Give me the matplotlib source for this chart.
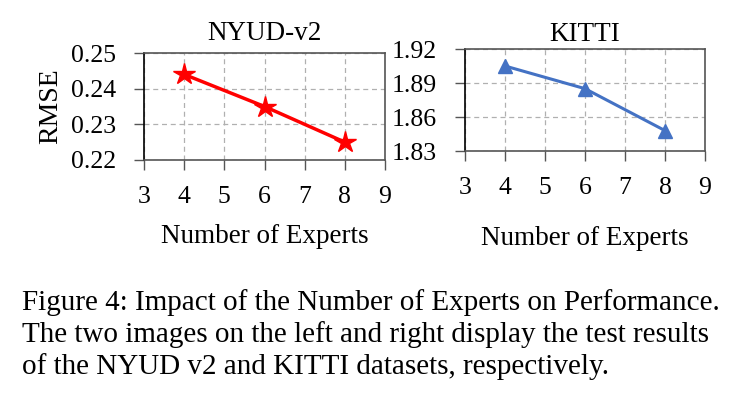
import matplotlib.pyplot as plt

plt.rcParams['font.family'] = ['Liberation Serif', 'DejaVu Serif']

experts = [4, 6, 8]
nyud_rmse = [0.244, 0.235, 0.225]
kitti_rmse = [1.905, 1.885, 1.848]

nyud_yticks = [0.22, 0.23, 0.24, 0.25]
kitti_yticks = [1.83, 1.86, 1.89, 1.92]
xticks = [3, 4, 5, 6, 7, 8, 9]

caption = ("Figure 4: Impact of the Number of Experts on Performance.\n"
           "The two images on the left and right display the test results\n"
           "of the NYUD v2 and KITTI datasets, respectively.")

fig = plt.figure(figsize=(7.44, 3.94), dpi=100)
W, H = 744, 394


def style(ax, yticks, fmt):
    ax.set_xlim(3, 9)
    ax.set_ylim(yticks[0], yticks[-1])
    ax.set_xticks(xticks)
    ax.set_yticks(yticks)
    ax.set_yticklabels([fmt % v for v in yticks])
    ax.grid(True, color='#b0b0b0', linestyle=(0, (4, 3)), linewidth=0.9)
    ax.set_axisbelow(True)
    for s in ax.spines.values():
        s.set_color('#555555')
        s.set_linewidth(1.2)
    ax.spines['left'].set_color('black')
    ax.tick_params(axis='both', labelsize=18.5, direction='out', length=7,
                   width=1.0, color='#555555')
    ax.tick_params(axis='x', pad=12)
    ax.tick_params(axis='y', pad=13)


# left panel
ax1 = fig.add_axes([144 / W, 1 - 160 / H, (385 - 144) / W, (160 - 53) / H])
ax1.plot(experts, nyud_rmse, color='#ff0000', linewidth=2.5, marker='*',
         markersize=16)
style(ax1, nyud_yticks, '%.2f')
ax1.set_ylabel('RMSE', fontsize=20, labelpad=6)
ax1.set_title('NYUD-v2', fontsize=19.5, pad=9)
ax1.set_xlabel('Number of Experts', fontsize=19.5, labelpad=11)

# right panel
ax2 = fig.add_axes([465 / W, 1 - 151 / H, (705 - 465) / W, (151 - 49) / H])
ax2.plot(experts, kitti_rmse, color='#4472c4', linewidth=2.2, marker='^',
         markersize=10)
style(ax2, kitti_yticks, '%.2f')
ax2.set_title('KITTI', fontsize=19.5, pad=6)
ax2.set_xlabel('Number of Experts', fontsize=19.5, labelpad=19)

fig.text(22 / W, 1 - 289 / H, caption, fontsize=21, va='top', ha='left',
         linespacing=1.25)

fig.savefig('out.png', dpi=100)
